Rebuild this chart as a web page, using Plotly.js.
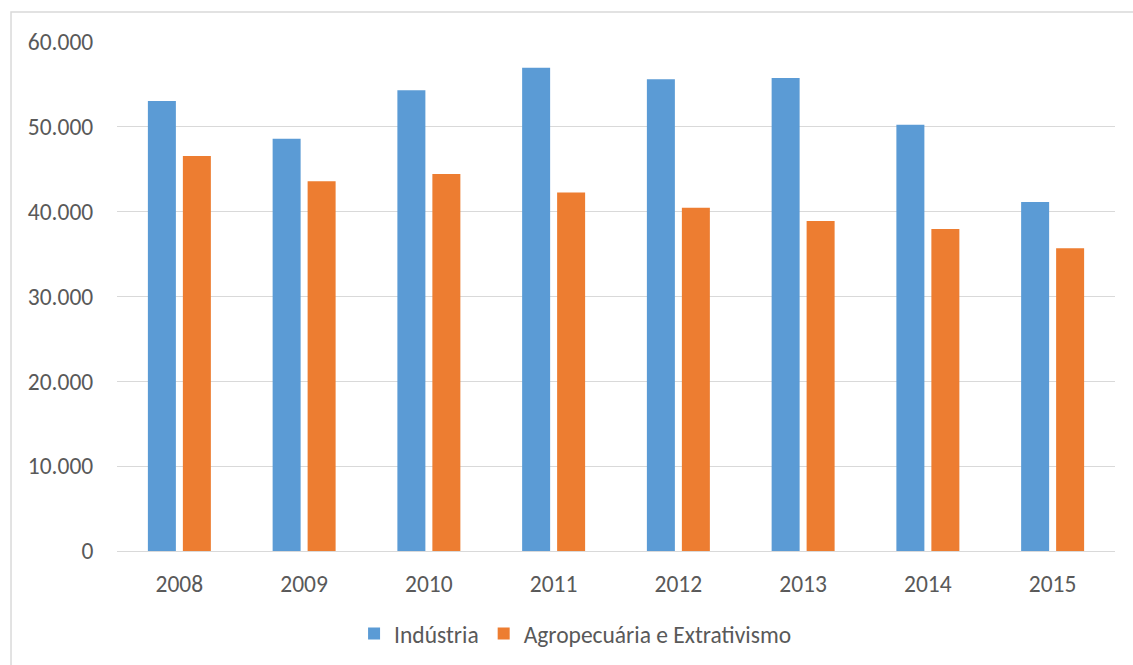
<!DOCTYPE html>
<html>
<head>
<meta charset="utf-8">
<script src="https://cdn.plot.ly/plotly-3.0.1.min.js"></script>
<style>
html,body{margin:0;padding:0;background:#fff;}
#chart{width:1133px;height:665px;}
</style>
</head>
<body>
<div id="chart"></div>
<script>
const years = ['2008','2009','2010','2011','2012','2013','2014','2015'];
const industria = [53050, 48600, 54300, 56950, 55600, 55750, 50250, 41150];
const agropecuaria = [46550, 43600, 44450, 42250, 40450, 38900, 37950, 35700];
const tickVals = [0, 10000, 20000, 30000, 40000, 50000, 60000];
const tickText = ['0', '10.000', '20.000', '30.000', '40.000', '50.000', '60.000'];

const font = 'Carlito, Calibri, "Open Sans", "Liberation Sans", sans-serif';

const data = [
  {type:'bar', name:'Indústria', x:years, y:industria,
   marker:{color:'#5b9bd5', line:{width:0}}},
  {type:'bar', name:'Agropecuária e Extrativismo', x:years, y:agropecuaria,
   marker:{color:'#ed7d31', line:{width:0}}}
];

const layout = {
  width:1133, height:665,
  margin:{l:117, r:18, t:42, b:114, autoexpand:false},
  paper_bgcolor:'#ffffff', plot_bgcolor:'#ffffff',
  font:{family:font, size:23.5, color:'#595959'},
  barmode:'group', bargap:0.439, bargroupgap:0.2,
  showlegend:true,
  legend:{orientation:'h', xref:'container', yref:'container',
          x:0.508, xanchor:'center', y:0.047, yanchor:'middle',
          font:{size:23.5, color:'#595959'}, itemwidth:30, traceorder:'normal'},
  xaxis:{type:'category', showgrid:false, zeroline:false, showline:true,
         linecolor:'#d9d9d9', linewidth:1, ticks:'outside', ticklen:12,
         tickcolor:'rgba(0,0,0,0)', tickfont:{size:23.5, color:'#595959'}},
  yaxis:{range:[0,60000], tickvals:tickVals, ticktext:tickText,
         showgrid:true, gridcolor:'#d9d9d9', gridwidth:1, zeroline:false,
         showline:false, ticks:'outside', ticklen:18, tickcolor:'rgba(0,0,0,0)',
         tickfont:{size:23.5, color:'#595959'}},
  shapes:[{type:'rect', xref:'paper', yref:'paper',
           x0:-0.1062, x1:1.03, y0:-0.25, y1:1.0589,
           line:{color:'#d9d9d9', width:1.5}, fillcolor:'rgba(0,0,0,0)', layer:'below'}]
};

Plotly.newPlot('chart', data, layout, {displayModeBar:false, staticPlot:true});
</script>
</body>
</html>
